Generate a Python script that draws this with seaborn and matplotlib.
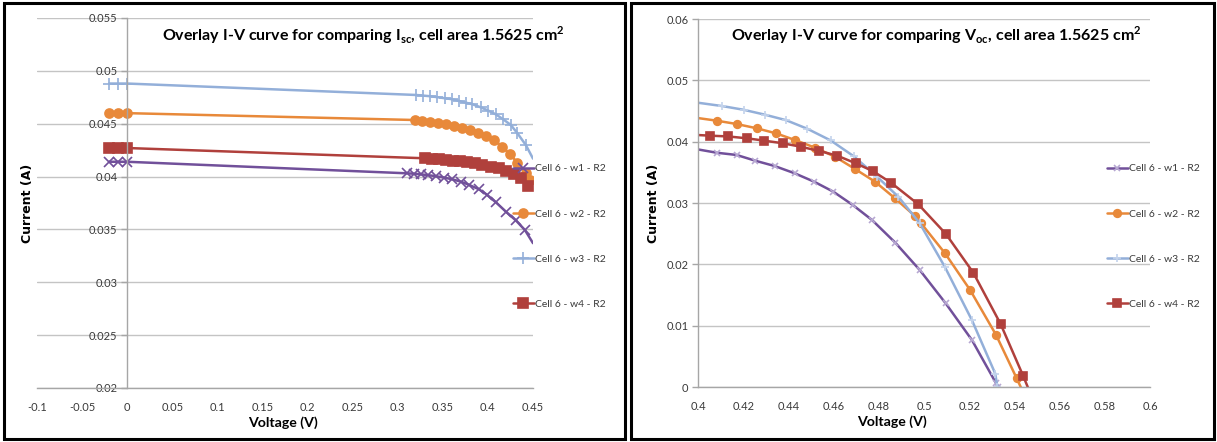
import matplotlib.pyplot as plt
import seaborn as sns
from matplotlib.lines import Line2D
from matplotlib.patches import Rectangle

# ---- data ----
series_names = ["Cell 6 - w1 - R2", "Cell 6 - w2 - R2", "Cell 6 - w3 - R2", "Cell 6 - w4 - R2"]

# left chart: comparing Isc
isc_w1_v = [-0.02, -0.01, 0.0, 0.310, 0.318, 0.326, 0.334, 0.342, 0.351, 0.360, 0.370,
            0.379, 0.390, 0.399, 0.409, 0.420, 0.431, 0.441, 0.450]
isc_w1_i = [0.0414, 0.0414, 0.0414, 0.04031, 0.04027, 0.04021, 0.04013, 0.04004, 0.03991, 0.03975,
            0.03952, 0.03922, 0.03880, 0.03828, 0.03755, 0.03668, 0.03585, 0.03495, 0.0337]
isc_w2_v = [-0.02, -0.01, 0.0, 0.3193, 0.3274, 0.3359, 0.3452, 0.3540, 0.3629, 0.3718, 0.3803,
            0.3891, 0.3983, 0.4069, 0.4160, 0.4242, 0.4327, 0.4420, 0.4470]
isc_w2_i = [0.0460, 0.0460, 0.0460, 0.04535, 0.04526, 0.04519, 0.04510, 0.04497, 0.04480, 0.04462,
            0.04441, 0.04415, 0.04384, 0.04346, 0.04283, 0.04214, 0.04132, 0.04031, 0.0397]
isc_w3_v = [-0.02, -0.01, 0.0, 0.3200, 0.3282, 0.3359, 0.3440, 0.3522, 0.3600, 0.3681, 0.3755,
            0.3828, 0.3921, 0.4006, 0.4087, 0.4169, 0.4254, 0.4327, 0.4420, 0.4500]
isc_w3_i = [0.0488, 0.0488, 0.0488, 0.04772, 0.04766, 0.04760, 0.04751, 0.04741, 0.04732, 0.04715,
            0.04699, 0.04684, 0.04655, 0.04623, 0.04589, 0.04542, 0.04488, 0.04410, 0.04299, 0.0417]
isc_w4_v = [-0.02, -0.01, 0.0, 0.3304, 0.3385, 0.3459, 0.3533, 0.3614, 0.3688, 0.3773, 0.3855,
            0.3939, 0.4032, 0.4124, 0.4205, 0.4290, 0.4365, 0.4449]
isc_w4_i = [0.0427, 0.0427, 0.0427, 0.04173, 0.04167, 0.04164, 0.04157, 0.04150, 0.04144, 0.04135,
            0.04125, 0.04109, 0.04093, 0.04078, 0.04055, 0.04021, 0.03983, 0.03911]

# right chart: comparing Voc
voc_w1_v = [0.399, 0.4082, 0.4171, 0.4253, 0.4339, 0.4428, 0.4514, 0.4599, 0.4685, 0.4770,
            0.4873, 0.4981, 0.5096, 0.5212, 0.5319, 0.5329]
voc_w1_i = [0.0388, 0.0382, 0.03783, 0.0369, 0.03603, 0.03484, 0.03347, 0.03184, 0.02967, 0.02723,
            0.02353, 0.01908, 0.01364, 0.00766, 0.0006, 0.0]
voc_w2_v = [0.399, 0.4083, 0.4171, 0.4260, 0.4345, 0.4429, 0.4518, 0.4606, 0.4695, 0.4783,
            0.4872, 0.4960, 0.4985, 0.5093, 0.5204, 0.5319, 0.5410, 0.5428]
voc_w2_i = [0.0439, 0.04342, 0.04288, 0.04218, 0.04136, 0.04027, 0.03902, 0.03755, 0.03554, 0.03348,
            0.03076, 0.02788, 0.02679, 0.0218, 0.01582, 0.00848, 0.00142, 0.0]
voc_w3_v = [0.399, 0.4108, 0.4202, 0.4296, 0.4390, 0.4484, 0.4587, 0.4690, 0.4792, 0.4887,
            0.4981, 0.5092, 0.5212, 0.5315, 0.5325]
voc_w3_i = [0.0464, 0.0458, 0.0452, 0.0444, 0.0435, 0.0421, 0.0402, 0.0376, 0.0343, 0.0310,
            0.0267, 0.0196, 0.0109, 0.0022, 0.0]
voc_w4_v = [0.399, 0.4053, 0.4134, 0.4216, 0.4294, 0.4375, 0.4454, 0.4537, 0.4616, 0.4698,
            0.4773, 0.4854, 0.4975, 0.5097, 0.5218, 0.5339, 0.5439, 0.5459]
voc_w4_i = [0.0411, 0.04098, 0.04085, 0.04055, 0.04016, 0.03974, 0.03918, 0.03848, 0.03772, 0.03647,
            0.03522, 0.03331, 0.02978, 0.02495, 0.01864, 0.01027, 0.00179, 0.0]

isc_xticks = [-0.1, -0.05, 0, 0.05, 0.1, 0.15, 0.2, 0.25, 0.3, 0.35, 0.4, 0.45]
isc_yticks = [0.02, 0.025, 0.03, 0.035, 0.04, 0.045, 0.05, 0.055]
voc_xticks = [0.4, 0.42, 0.44, 0.46, 0.48, 0.5, 0.52, 0.54, 0.56, 0.58, 0.6]
voc_yticks = [0, 0.01, 0.02, 0.03, 0.04, 0.05, 0.06]

# ---- styles ----
colors = ["#71509A", "#E8893A", "#93AFD9", "#B0403C"]
markers = ["x", "o", "+", "s"]

sns.set_style("white")
plt.rcParams["font.family"] = ["Lato", "DejaVu Sans"]
plt.rcParams["mathtext.fontset"] = "custom"
plt.rcParams["mathtext.rm"] = "Lato"
plt.rcParams["mathtext.bf"] = "Lato:bold"

fig = plt.figure(figsize=(12.17, 4.42), dpi=100)
ax1 = fig.add_axes([37 / 1217, 54 / 442, 496 / 1217, 370 / 442])
ax2 = fig.add_axes([698 / 1217, 55 / 442, 452 / 1217, 368 / 442])


def draw(ax, v, i, color, marker, ms, mcolor, markevery):
    sns.lineplot(x=v, y=i, ax=ax, color=color, linewidth=1.8, marker=marker,
                 markersize=ms, markeredgewidth=1.2, markeredgecolor=mcolor,
                 markerfacecolor=mcolor, markevery=markevery, sort=False,
                 estimator=None, legend=False)


isc = [(isc_w1_v, isc_w1_i), (isc_w2_v, isc_w2_i), (isc_w3_v, isc_w3_i), (isc_w4_v, isc_w4_i)]
voc = [(voc_w1_v, voc_w1_i), (voc_w2_v, voc_w2_i), (voc_w3_v, voc_w3_i), (voc_w4_v, voc_w4_i)]

isc_every = [slice(0, -1), slice(None), slice(0, -1), slice(None)]
voc_every = [slice(1, None), slice(1, -1), slice(1, None), slice(1, -1)]
voc_mcolors = ["#B7A8D2", colors[1], "#C3D3EC", colors[3]]
isc_ms = [7, 6.5, 8, 6.5]
voc_ms = [5, 5.5, 6, 5.5]

for k, (v, i) in enumerate(isc):
    draw(ax1, v, i, colors[k], markers[k], isc_ms[k], colors[k], isc_every[k])
for k, (v, i) in enumerate(voc):
    draw(ax2, v, i, colors[k], markers[k], voc_ms[k], voc_mcolors[k], voc_every[k])

for ax, xt, yt in [(ax1, isc_xticks, isc_yticks), (ax2, voc_xticks, voc_yticks)]:
    ax.set_xlim(xt[0], xt[-1])
    ax.set_ylim(yt[0], yt[-1])
    ax.set_xticks(xt, labels=[f"{t:g}" for t in xt])
    ax.set_yticks(yt, labels=[f"{t:g}" for t in yt])
    ax.grid(axis="y", color="#C4C4C4", linewidth=1)
    ax.grid(axis="x", visible=False)
    ax.set_axisbelow(True)
    for s in ["top", "right"]:
        ax.spines[s].set_visible(False)
    for s in ["left", "bottom"]:
        ax.spines[s].set_color("#A6A6A6")
        ax.spines[s].set_linewidth(1)
    ax.tick_params(axis="both", labelsize=8, labelcolor="#3A3A3A", color="#A6A6A6",
                   length=4, width=1, direction="out", pad=3)
    ax.tick_params(axis="x", pad=6)
    ax.tick_params(axis="y", left=True)
    ax.patch.set_alpha(0)

# Excel puts the value axis of the left chart at x = 0
ax1.spines["left"].set_position(("data", 0))

titles = [r"Overlay I-V curve for comparing I$_{\mathbf{sc}}$, cell area 1.5625 cm$^{\mathbf{2}}$",
          r"Overlay I-V curve for comparing V$_{\mathbf{oc}}$, cell area 1.5625 cm$^{\mathbf{2}}$"]
ax1.text((363 - 37) / 496, (388 - 35) / 370, titles[0], transform=ax1.transAxes,
         ha="center", va="center", fontsize=11.5, fontweight="bold", color="black")
ax2.text((936 - 698) / 452, (387 - 35) / 368, titles[1], transform=ax2.transAxes,
         ha="center", va="center", fontsize=11.5, fontweight="bold", color="black")

for ax, xc, yc in [(ax1, (283 - 37) / 496, (28 - 37) / 496), (ax2, (892 - 698) / 452, (653 - 698) / 452)]:
    ax.set_xlabel("Voltage (V)", fontsize=10.2, fontweight="bold", color="black")
    ax.set_ylabel("Current (A)", fontsize=9, fontweight="bold", color="black",
                  fontfamily="DejaVu Sans")
    ax.xaxis.set_label_coords(xc, -0.095)
    ax.yaxis.set_label_coords(yc, 0.5)
    ax.xaxis.label.set_va("center")
    ax.yaxis.label.set_va("center")

# legends
isc_handles = [Line2D([], [], color=colors[k], lw=1.8, marker=markers[k], ms=isc_ms[k],
                      mec=colors[k], mfc=colors[k], mew=1.2) for k in range(4)]
voc_handles = [Line2D([], [], color=colors[k], lw=1.8, marker=markers[k], ms=voc_ms[k],
                      mec=voc_mcolors[k], mfc=voc_mcolors[k], mew=1.2) for k in range(4)]
for handles, x0 in [(isc_handles, 513), (voc_handles, 1107)]:
    fig.legend(handles, series_names, loc="upper left", bbox_to_anchor=(x0 / 1217, 1 - 164 / 442),
               frameon=False, fontsize=7.5, labelspacing=3.45, handlelength=2.0,
               handletextpad=0.15, borderpad=0, borderaxespad=0, labelcolor="#3A3A3A")

# black frames round both charts
fig.add_artist(Rectangle((4 / 1217, 3 / 442), 621 / 1217, 436 / 442, transform=fig.transFigure,
                         fill=False, edgecolor="black", linewidth=2.2))
fig.add_artist(Rectangle((631 / 1217, 3 / 442), 583 / 1217, 436 / 442, transform=fig.transFigure,
                         fill=False, edgecolor="black", linewidth=2.2))

plt.savefig("out.png", dpi=100)
plt.close()
